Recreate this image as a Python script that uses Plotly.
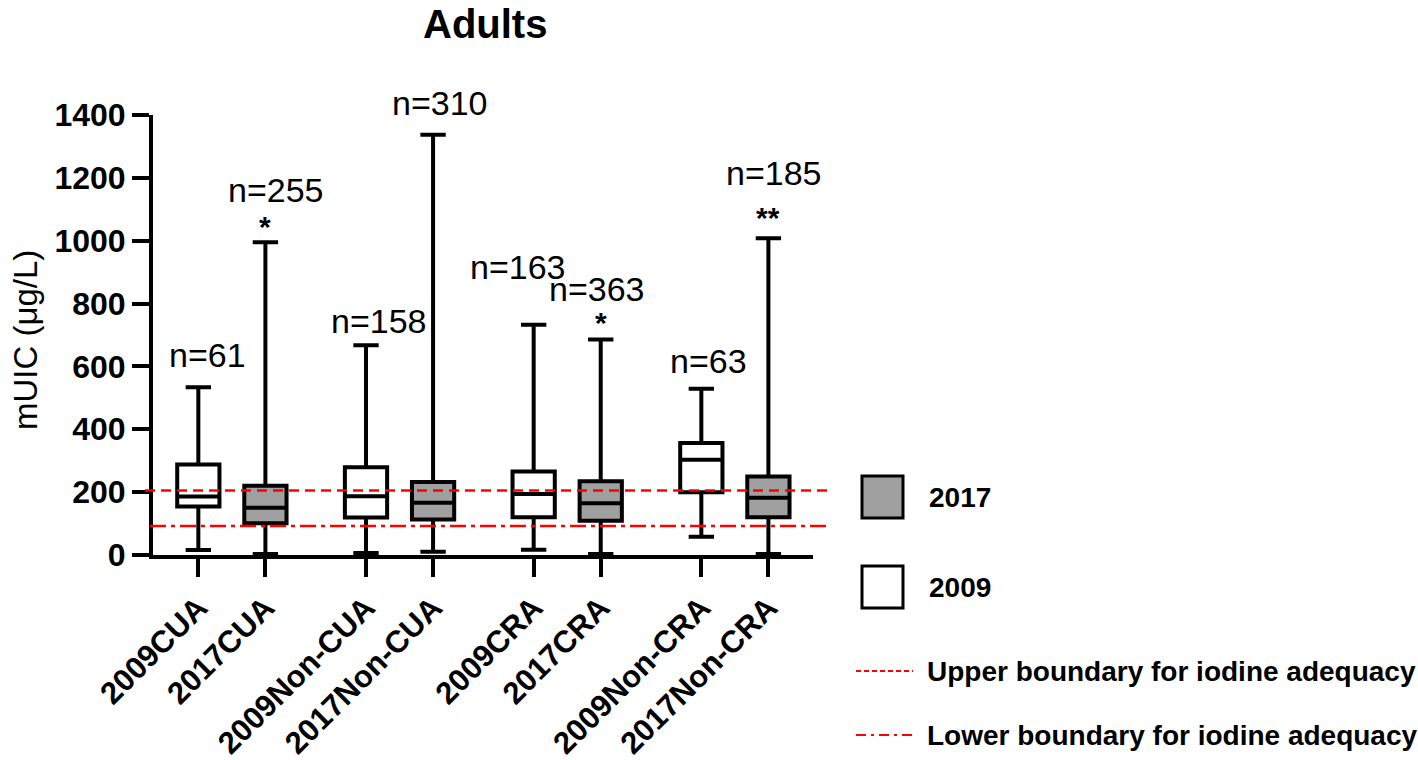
import plotly.graph_objects as go

# ---------------- data ----------------
categories = ["2009CUA", "2017CUA", "2009Non-CUA", "2017Non-CUA",
              "2009CRA", "2017CRA", "2009Non-CRA", "2017Non-CRA"]
years = ["2009", "2017", "2009", "2017", "2009", "2017", "2009", "2017"]
upper_whisker = [534, 995, 667, 1337, 733, 686, 529, 1008]
q3_values = [288, 220, 279, 232, 266, 235, 356, 250]
medians = [186, 150, 187, 166, 194, 165, 303, 182]
q1_values = [154, 101, 119, 113, 120, 109, 200, 120]
lower_whisker = [16, 3, 6, 10, 17, 3, 58, 3]
n_labels = ["n=61", "n=255", "n=158", "n=310", "n=163", "n=363", "n=63", "n=185"]
sig_labels = ["", "*", "", "", "", "*", "", "**"]
upper_boundary = 205
lower_boundary = 92
y_ticks = [0, 200, 400, 600, 800, 1000, 1200, 1400]

# ---------------- layout helpers ----------------
positions = [0, 1, 2.5, 3.5, 5, 6, 7.5, 8.5]
L, R, T, B = 153, 813, 115, 555   # plot area in pixels
W, H = 1418, 760


def px2x(px):
    return (px - L) / (R - L)


def px2y(py):
    return (B - py) / (B - T)


FONT = "Arial, Liberation Sans, sans-serif"
GRAY = "#a0a0a0"

fig = go.Figure()
for yr, fill in (("2009", "white"), ("2017", GRAY)):
    idx = [i for i, y in enumerate(years) if y == yr]
    fig.add_trace(go.Box(
        x=[positions[i] for i in idx],
        q1=[q1_values[i] for i in idx],
        median=[medians[i] for i in idx],
        q3=[q3_values[i] for i in idx],
        lowerfence=[lower_whisker[i] for i in idx],
        upperfence=[upper_whisker[i] for i in idx],
        width=0.63,
        whiskerwidth=0.6,
        fillcolor=fill,
        line=dict(color="black", width=4),
        boxpoints=False,
        showlegend=False,
        hoverinfo="skip",
        name=yr,
    ))

annotations = []
# n labels: pixel offsets relative to whisker top
n_dx = [9, 11, 13, 7, -16, -4, 7, 6]
n_dy = [32, 52, 24, 32, 58, 50, 28, 65]
s_dy = [0, 16, 0, 0, 0, 17, 0, 21]
for i in range(len(categories)):
    annotations.append(dict(
        x=positions[i], y=upper_whisker[i], xref="x", yref="y",
        text=n_labels[i], showarrow=False, xshift=n_dx[i], yshift=n_dy[i],
        yanchor="middle", font=dict(family=FONT, size=34, color="black")))
    if sig_labels[i]:
        annotations.append(dict(
            x=positions[i], y=upper_whisker[i], xref="x", yref="y",
            text="<b>" + sig_labels[i] + "</b>", showarrow=False, yshift=s_dy[i],
            yanchor="middle", font=dict(family=FONT, size=30, color="black")))

# title
annotations.append(dict(x=px2x(485), y=px2y(0), xref="paper", yref="paper",
                        text="<b>Adults</b>", showarrow=False,
                        xanchor="center", yanchor="top",
                        font=dict(family=FONT, size=40, color="black")))
# y-axis title
annotations.append(dict(x=px2x(25), y=px2y(340), xref="paper", yref="paper",
                        text="mUIC (μg/L)", showarrow=False, textangle=-90,
                        xanchor="center", yanchor="middle",
                        font=dict(family=FONT, size=33, color="black")))

shapes = [
    dict(type="line", xref="paper", yref="y", x0=px2x(145), x1=px2x(828),
         y0=upper_boundary, y1=upper_boundary, layer="above",
         line=dict(color="#ff0000", width=2.5, dash="10px,6px")),
    dict(type="line", xref="paper", yref="y", x0=px2x(150), x1=px2x(828),
         y0=lower_boundary, y1=lower_boundary, layer="above",
         line=dict(color="#ff0000", width=2.5, dash="16px,5px,4px,5px")),
]

# custom legend
legend_items = [("2017", GRAY, 497), ("2009", "white", 587)]
for label, fill, cy in legend_items:
    shapes.append(dict(type="rect", xref="paper", yref="paper",
                       x0=px2x(862), x1=px2x(903), y0=px2y(cy - 21), y1=px2y(cy + 21),
                       fillcolor=fill, line=dict(color="black", width=3)))
    annotations.append(dict(x=px2x(927), y=px2y(cy), xref="paper", yref="paper",
                            text="<b>" + label + "</b>", showarrow=False,
                            xanchor="left", yanchor="middle",
                            font=dict(family=FONT, size=28, color="black")))
line_items = [("Upper boundary for iodine adequacy", 671, "5px,3px"),
              ("Lower boundary for iodine adequacy", 735, "10px,5px,3px,5px")]
for label, cy, dash in line_items:
    shapes.append(dict(type="line", xref="paper", yref="paper",
                       x0=px2x(856), x1=px2x(913), y0=px2y(cy), y1=px2y(cy),
                       line=dict(color="#ff0000", width=2, dash=dash)))
    annotations.append(dict(x=px2x(925), y=px2y(cy), xref="paper", yref="paper",
                            text="<b>" + label + "</b>", showarrow=False,
                            xanchor="left", yanchor="middle",
                            font=dict(family=FONT, size=28, color="black")))

fig.update_layout(
    width=W, height=H, autosize=False,
    margin=dict(l=L, r=W - R, t=T, b=H - B, pad=0, autoexpand=False),
    paper_bgcolor="white", plot_bgcolor="white",
    font=dict(family=FONT, color="black"),
    showlegend=False,
    hovermode=False,
    annotations=annotations,
    shapes=shapes,
    xaxis=dict(
        range=[-0.676, 9.165], tickmode="array", tickvals=positions,
        ticktext=["<b>" + c + "</b>" for c in categories],
        tickangle=-45, ticks="outside", ticklen=18, tickwidth=4, tickcolor="black",
        showline=True, linewidth=4, linecolor="black", showgrid=False, zeroline=False,
        automargin=False,
        tickfont=dict(family=FONT, size=31, color="black"),
    ),
    yaxis=dict(
        range=[0, 1400], tickmode="array", tickvals=y_ticks,
        ticktext=["<b>%d</b>" % v for v in y_ticks],
        ticks="outside", ticklen=17, tickwidth=4, tickcolor="black",
        showline=True, linewidth=4, linecolor="black", showgrid=False, zeroline=False,
        automargin=False,
        tickfont=dict(family=FONT, size=32, color="black"),
    ),
)

fig.write_html("out.html",
               config={"displayModeBar": False, "staticPlot": True},
               post_script="document.body.style.margin='0';"
                           "document.body.style.overflow='hidden';")
